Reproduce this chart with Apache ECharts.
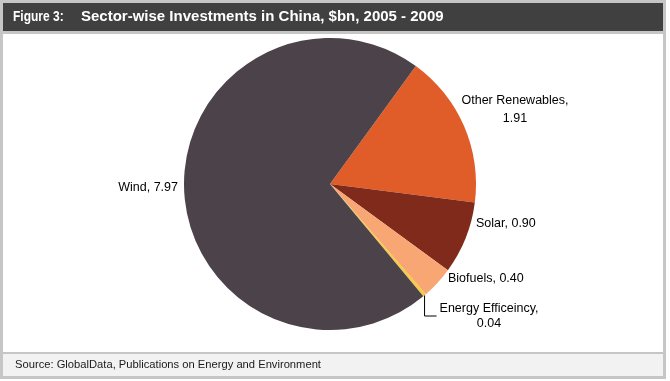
<!DOCTYPE html>
<html>
<head>
<meta charset="utf-8">
<script src="https://cdn.jsdelivr.net/npm/echarts@6/dist/echarts.min.js"></script>
<style>
  html, body { margin: 0; padding: 0; background: #ffffff; }
  #chart { width: 670px; height: 381px; }
</style>
</head>
<body>
<div id="chart"></div>
<script>
// ---- Data ----
const categories = ['Other Renewables', 'Solar', 'Biofuels', 'Energy Efficeincy', 'Wind'];
const values = [1.91, 0.90, 0.40, 0.04, 7.97];
const figureLabel = 'Figure 3:';
const titleText = 'Sector-wise Investments in China, $bn, 2005 - 2009';
const sourceText = 'Source: GlobalData, Publications on Energy and Environment';

// ---- Styles / layout ----
const colors = ['#E05C28', '#7F2A1A', '#F8A673', '#F6CB44', '#4C4249'];
const CX = 330, CY = 184, R = 146, START = 54;
const labelSpots = [
  { x: 515, y: 109.5, align: 'center', lh: 18 },
  { x: 476, y: 224, align: 'left', lh: 14 },
  { x: 448, y: 279, align: 'left', lh: 14 },
  { x: 489, y: 316, align: 'center', lh: 15 },
  { x: 178, y: 188, align: 'right', lh: 14 }
];

const total = values.reduce((a, b) => a + b, 0);
function midAngleDeg(idx) {
  // degrees clockwise from 12 o'clock
  let before = 0;
  for (let k = 0; k < idx; k++) before += values[k];
  return (90 - START) + (before + values[idx] / 2) / total * 360;
}

const chart = echarts.init(document.getElementById('chart'), null, { renderer: 'canvas' });

const pieData = categories.map((name, i) => ({
  name: name,
  value: values[i],
  itemStyle: { color: colors[i] },
  label: {
    formatter: (i === 0 || i === 3)
      ? name + ',\n' + values[i].toFixed(2)
      : name + ', ' + values[i].toFixed(2),
    align: labelSpots[i].align,
    lineHeight: labelSpots[i].lh
  },
  labelLine: { show: i === 3 }
}));

chart.setOption({
  animation: false,
  backgroundColor: '#ffffff',
  graphic: [
    { type: 'rect', z: -10, silent: true, shape: { x: 0, y: 0, width: 666, height: 379 }, style: { fill: '#C6C6C6' } },
    { type: 'rect', z: -9, silent: true, shape: { x: 3, y: 3, width: 660, height: 28 }, style: { fill: '#404040' } },
    { type: 'rect', z: -9, silent: true, shape: { x: 3, y: 34, width: 660, height: 318 }, style: { fill: '#ffffff' } },
    { type: 'rect', z: -9, silent: true, shape: { x: 3, y: 354, width: 660, height: 22 }, style: { fill: '#F2F2F2' } },
    { type: 'text', z: 5, silent: true, x: 13, y: 17, scaleX: 0.8,
      style: { text: figureLabel, fill: '#ffffff', font: 'bold 15px "Liberation Sans", Arial, sans-serif', verticalAlign: 'middle' } },
    { type: 'text', z: 5, silent: true, x: 81, y: 17,
      style: { text: titleText, fill: '#ffffff', font: 'bold 15px "Liberation Sans", Arial, sans-serif', verticalAlign: 'middle' } },
    { type: 'text', z: 5, silent: true, x: 15, y: 365,
      style: { text: sourceText, fill: '#1a1a1a', font: '11.2px "Liberation Sans", Arial, sans-serif', verticalAlign: 'middle' } }
  ],
  series: [{
    type: 'pie',
    center: [CX, CY],
    radius: [0, R],
    startAngle: START,
    clockwise: true,
    avoidLabelOverlap: false,
    label: {
      show: true,
      position: 'outside',
      color: '#000000',
      fontSize: 12.5,
      fontFamily: '"Liberation Sans", Arial, sans-serif'
    },
    labelLine: { show: false, lineStyle: { color: '#000000', width: 1 } },
    itemStyle: { borderWidth: 0 },
    emphasis: { disabled: true },
    labelLayout: function (params) {
      const i = params.dataIndex;
      const s = labelSpots[i];
      const out = { x: s.x, y: s.y, align: s.align, verticalAlign: 'middle' };
      if (i === 3) {
        const a = midAngleDeg(i) * Math.PI / 180;
        const px = CX + R * Math.sin(a);
        const py = CY - R * Math.cos(a);
        const leftEdge = s.x - params.labelRect.width / 2;
        out.labelLinePoints = [[px, py], [px, s.y], [leftEdge - 3, s.y]];
      }
      return out;
    },
    data: pieData
  }]
});
</script>
</body>
</html>
